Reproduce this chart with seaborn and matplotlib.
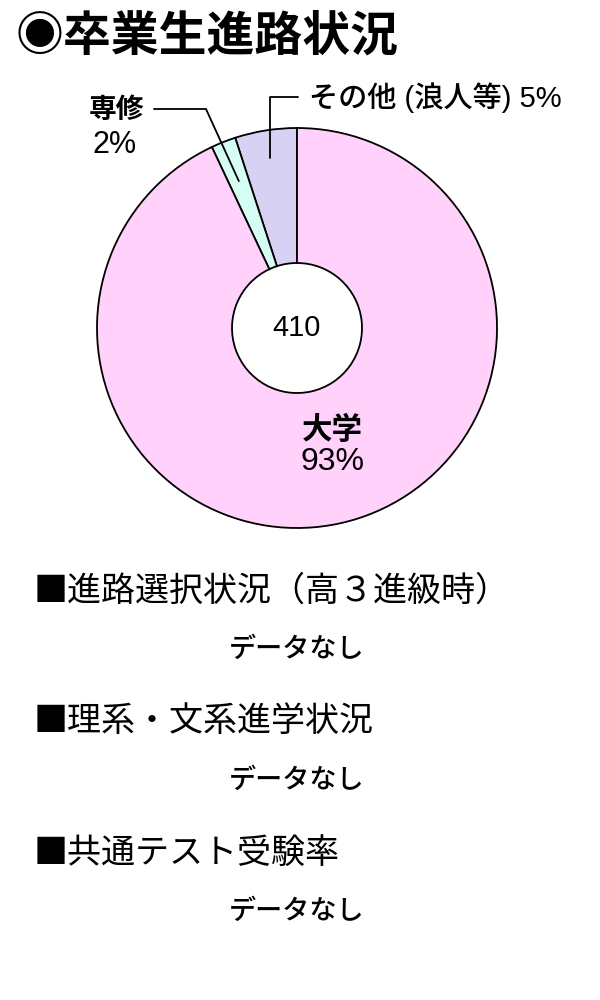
import matplotlib
matplotlib.use('Agg')
import matplotlib.pyplot as plt
import numpy as np
import seaborn as sns

sns.set_theme(style='white')
plt.rcParams['font.family'] = ['Noto Sans CJK JP', 'DejaVu Sans']
plt.rcParams['text.color'] = 'black'
LATIN = ['Liberation Sans', 'Noto Sans CJK JP', 'DejaVu Sans']

# data
categories = ['その他', '専修', '大学']
shares = [5, 2, 93]
names = ['その他', '専修', '大学']
pct_texts = ['5%', '2%', '93%']
colors = ['#D7D1F4', '#D6FDF4', '#FFD1FB']
total = 410
sections = ['■進路選択状況（高３進級時）', '■理系・文系進学状況', '■共通テスト受験率']
no_data = 'データなし'

W, H = 600, 1000
fig = plt.figure(figsize=(6, 10), dpi=100)
ax = fig.add_axes([0, 0, 1, 1])


def py(y):
    # pixel row (top down) -> data y
    return H - y


cx, cy, R = 297, py(328), 200
wedges, _ = ax.pie(shares, colors=colors, startangle=90, counterclock=True,
                   center=(cx, cy), radius=R, frame=True,
                   wedgeprops=dict(width=135, edgecolor='black', linewidth=1.3))
ax.set_xlim(0, W)
ax.set_ylim(0, H)
ax.set_aspect('equal')
ax.axis('off')


def mid_point(w, r):
    a = np.deg2rad((w.theta1 + w.theta2) / 2)
    return cx + r * np.cos(a), cy + r * np.sin(a)


# その他 leader
x0, y0 = mid_point(wedges[0], 172)
ax.plot([x0, x0, 298], [y0, py(97), py(97)], color='black', lw=1.3)
ax.text(309, py(98), names[0] + ' (浪人等) ' + pct_texts[0], family=LATIN,
        fontsize=21, fontweight='medium', ha='left', va='center')

# 専修 leader
x1, y1 = mid_point(wedges[1], 158)
ax.plot([x1, 206, 154], [y1, py(109), py(109)], color='black', lw=1.3)
ax.text(116, py(110), names[1], fontsize=20, fontweight='bold',
        ha='center', va='center')
ax.text(115, py(145), pct_texts[1], family=LATIN, fontsize=22,
        ha='center', va='center')

# 大学 label
ax.text(332, py(430), names[2], fontsize=22, fontweight='bold',
        ha='center', va='center')
ax.text(332, py(462), pct_texts[2], family=LATIN, fontsize=23,
        ha='center', va='center')

# centre count
ax.text(cx, cy, str(total), family=LATIN, fontsize=21, ha='center', va='center')

# title
ax.text(16, py(36), '◉卒業生進路状況', fontsize=34.5, fontweight='bold',
        ha='left', va='center')

# sections without data
for i, s in enumerate(sections):
    y = 591 + i * 131
    ax.text(34, py(y), s, fontsize=24.5, ha='left', va='center')
    ax.text(297, py(y + 58), no_data, fontsize=19.5, fontweight='medium',
            ha='center', va='center')

fig.savefig('out.png', dpi=100, facecolor='white')
